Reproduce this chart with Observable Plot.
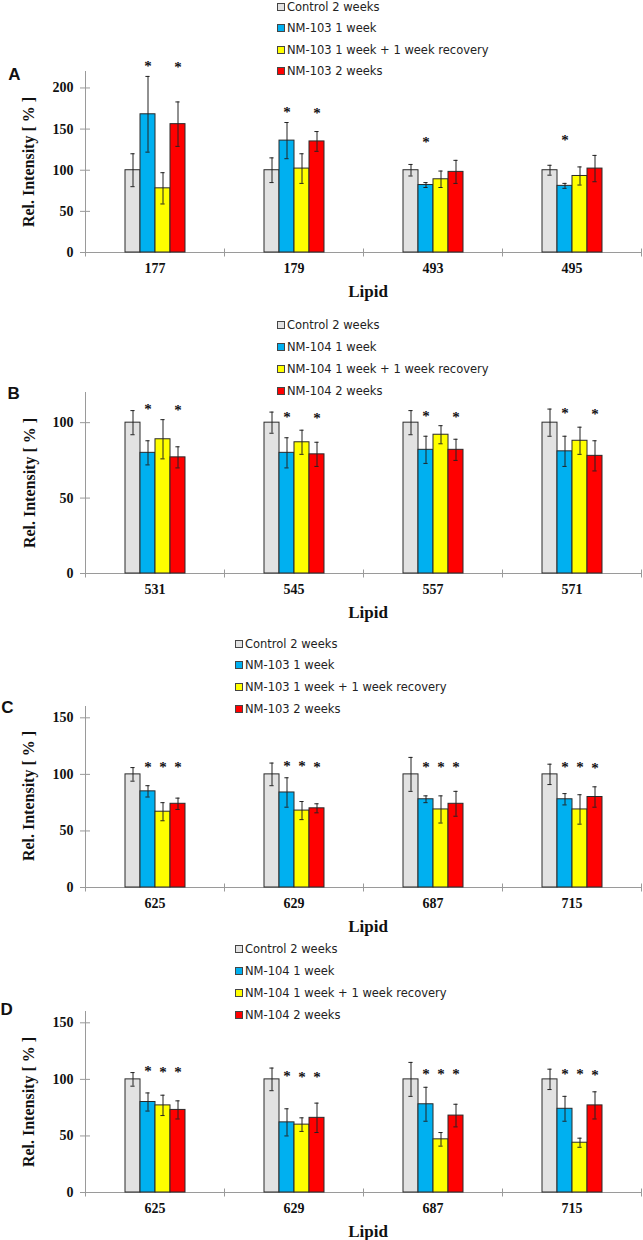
<!DOCTYPE html>
<html>
<head>
<meta charset="utf-8">
<script src="https://cdn.jsdelivr.net/npm/d3@7"></script>
<script src="https://cdn.jsdelivr.net/npm/@observablehq/plot@0.6"></script>
<style>
  body { margin: 0; background: #fff; }
  #root { position: relative; width: 643px; height: 1240px; overflow: hidden; background: #fff; }
  .panel { position: absolute; left: 0; }
  .item { position: absolute; white-space: nowrap; display: flex; align-items: center; height: 14px;
          font-family: "DejaVu Sans"; font-size: 11.5px; color: #222; }
  .sw { width: 6px; height: 6px; border: 1px solid #444; margin-right: 2px; flex: none; }
  .letter { position: absolute; font: bold 17px "Liberation Sans"; transform: translate(-50%, -50%); color: #111; }
  .ylab { position: absolute; font: bold 16px "Liberation Serif"; white-space: nowrap; color: #111;
          transform: translate(-50%, -50%) rotate(-90deg); }
  .xlab { position: absolute; font: bold 17px "Liberation Serif"; white-space: nowrap; color: #111;
          transform: translate(-50%, -50%); }
</style>
</head>
<body>
<div id="root"></div>
<script>
// ---------- data ----------
const colors = ["#E2E2E2", "#00B0F0", "#FFFF00", "#FF0000"];

const groupsA = ["Control 2 weeks", "NM-103 1 week", "NM-103 1 week + 1 week recovery", "NM-103 2 weeks"];
const groupsB = ["Control 2 weeks", "NM-104 1 week", "NM-104 1 week + 1 week recovery", "NM-104 2 weeks"];

const lipidsA = ["177", "179", "493", "495"];
const meansA = [[100, 168, 78, 156], [100, 136, 102, 135], [100, 82, 89, 98], [100, 81, 93, 102]];
const errsA  = [[20, 46, 19, 27], [15, 22, 18, 12], [7, 3, 10, 14], [6, 3, 11, 16]];
const starsA = [[null, 229, null, 228], [null, 172.6, null, 171.4], [null, 136.4, null, null], [null, 138.5, null, null]];

const lipidsB = ["531", "545", "557", "571"];
const meansB = [[100, 80, 89, 77], [100, 80, 87, 79], [100, 82, 92, 82], [100, 81, 88, 78]];
const errsB  = [[8, 8, 13, 7], [7, 10, 8, 8], [8, 9, 6, 7], [9, 10, 9, 10]];
const starsB = [[null, 110, null, 109.7], [null, 104.8, null, 104.2], [null, 105.3, null, 104.8], [null, 107.5, null, 107]];

const lipidsC = ["625", "629", "687", "715"];
const meansC = [[100, 85, 67, 74], [100, 84, 68, 70], [100, 78, 69, 74], [100, 78, 69, 80]];
const errsC  = [[6, 5, 8, 5], [10, 13, 8, 4], [15, 3, 12, 11], [9, 5, 13, 9]];
const starsC = [[null, 108.5, 108.5, 108], [null, 109.4, 109.4, 108.5], [null, 108, 108, 108], [null, 108.5, 108, 107]];

const lipidsD = ["625", "629", "687", "715"];
const meansD = [[100, 80, 77, 73], [100, 62, 60, 66], [100, 78, 47, 68], [100, 74, 44, 77]];
const errsD  = [[6, 8, 9, 8], [10, 12, 6, 13], [15, 15, 6, 10], [9, 11, 4, 12]];
const starsD = [[null, 108.9, 108.3, 107.7], [null, 104.5, 103.9, 103.9], [null, 106.5, 106.5, 106], [null, 106.5, 106.5, 105.4]];

const ticksA = [0, 50, 100, 150, 200];
const ticksB = [0, 50, 100];
const ticksC = [0, 50, 100, 150];

const yLabel = "Rel. Intensity [ % ]";
const xLabel = "Lipid";

// ---------- layout ----------
const panels = [
  {letter: "A", groups: groupsA, lipids: lipidsA, means: meansA, errs: errsA, stars: starsA, ymax: 220, ticks: ticksA,
   top: 0.7, ml: 84, legendX: 277, legendY: [7, 28, 49.5, 70.7], letterXY: [14.5, 74.5], ylabXY: [29, 161.5], xlabY: 291.7},
  {letter: "B", groups: groupsB, lipids: lipidsB, means: meansB, errs: errsB, stars: starsB, ymax: 120, ticks: ticksB,
   top: 321.7, ml: 84, legendX: 277, legendY: [325, 347, 369, 391], letterXY: [13.7, 394], ylabXY: [30, 482.5], xlabY: 612.5},
  {letter: "C", groups: groupsA, lipids: lipidsC, means: meansC, errs: errsC, stars: starsC, ymax: 160, ticks: ticksC,
   top: 635.7, ml: 83, legendX: 235, legendY: [643.7, 665.3, 687.3, 709.3], letterXY: [7.5, 707.7], ylabXY: [29, 796], xlabY: 926.5},
  {letter: "D", groups: groupsB, lipids: lipidsD, means: meansD, errs: errsD, stars: starsD, ymax: 160, ticks: ticksC,
   top: 940.7, ml: 83, legendX: 235, legendY: [949.3, 971, 993, 1015], letterXY: [6.7, 1010], ylabXY: [29, 1101.5], xlabY: 1231.5}
];

const root = document.getElementById("root");
const MT = 70, PH = 181, MB = 30;
const axisGray = "#9a9a9a";
const serif = "Liberation Serif";

for (const p of panels) {
  const rows = [];
  p.lipids.forEach((l, i) => p.groups.forEach((g, j) =>
    rows.push({lipid: l, group: g, v: p.means[i][j], e: p.errs[i][j], s: p.stars[i][j]})));

  const chart = Plot.plot({
    width: 643, height: MT + PH + MB,
    marginTop: MT, marginBottom: MB, marginLeft: p.ml, marginRight: 1,
    style: {background: "transparent", overflow: "visible"},
    fx: {domain: p.lipids, paddingInner: 0, paddingOuter: 0},
    x: {domain: p.groups, paddingInner: 0, paddingOuter: 2.39, axis: null},
    y: {domain: [0, p.ymax], axis: null},
    color: {domain: p.groups, range: colors},
    marks: [
      Plot.ruleY([0], {stroke: axisGray}),
      Plot.frame({anchor: "right", stroke: axisGray, insetTop: PH - 3.5, insetBottom: -3.5}),
      Plot.frame({anchor: "left", stroke: axisGray, insetBottom: -3.5, fx: () => p.lipids[0]}),
      Plot.barY(rows, {fx: "lipid", x: "group", y: "v", fill: "group", stroke: "#2a2a2a", strokeWidth: 1}),
      Plot.ruleX(rows, {fx: "lipid", x: "group", y1: d => d.v - d.e, y2: d => d.v + d.e, stroke: "#222"}),
      Plot.tickY(rows, {fx: "lipid", x: "group", y: d => d.v + d.e, insetLeft: 5.4, insetRight: 5.4, stroke: "#222"}),
      Plot.tickY(rows, {fx: "lipid", x: "group", y: d => d.v - d.e, insetLeft: 5.4, insetRight: 5.4, stroke: "#222"}),
      Plot.text(rows.filter(d => d.s != null), {fx: "lipid", x: "group", y: "s", text: () => "*",
        fontFamily: serif, fontWeight: "bold", fontSize: 15, fill: "#111", dy: 2}),
      Plot.axisY({ticks: p.ticks, tickSize: 5, tickPadding: 7, stroke: axisGray, fill: "#111", label: null,
        fontFamily: serif, fontWeight: "bold", fontSize: 14}),
      Plot.axisY({ticks: p.ticks, tickSize: -5, tickFormat: () => "", stroke: axisGray, label: null}),
      Plot.axisFx({anchor: "bottom", tickSize: 0, tickPadding: 11, label: null, fill: "#111",
        fontFamily: serif, fontWeight: "bold", fontSize: 14})
    ]
  });

  const wrap = document.createElement("div");
  wrap.className = "panel";
  wrap.style.top = p.top + "px";
  wrap.appendChild(chart);
  root.appendChild(wrap);

  // legend
  p.groups.forEach((g, j) => {
    const it = document.createElement("div");
    it.className = "item";
    it.style.left = p.legendX + "px";
    it.style.top = (p.legendY[j] - 7) + "px";
    const sw = document.createElement("span");
    sw.className = "sw";
    sw.style.background = colors[j];
    const tx = document.createElement("span");
    tx.textContent = g;
    it.appendChild(sw); it.appendChild(tx);
    root.appendChild(it);
  });

  const L = document.createElement("div");
  L.className = "letter"; L.textContent = p.letter;
  L.style.left = p.letterXY[0] + "px"; L.style.top = p.letterXY[1] + "px";
  root.appendChild(L);

  const yl = document.createElement("div");
  yl.className = "ylab"; yl.textContent = yLabel;
  yl.style.left = p.ylabXY[0] + "px"; yl.style.top = p.ylabXY[1] + "px";
  root.appendChild(yl);

  const xl = document.createElement("div");
  xl.className = "xlab"; xl.textContent = xLabel;
  xl.style.left = "368px"; xl.style.top = p.xlabY + "px";
  root.appendChild(xl);
}
</script>
</body>
</html>
